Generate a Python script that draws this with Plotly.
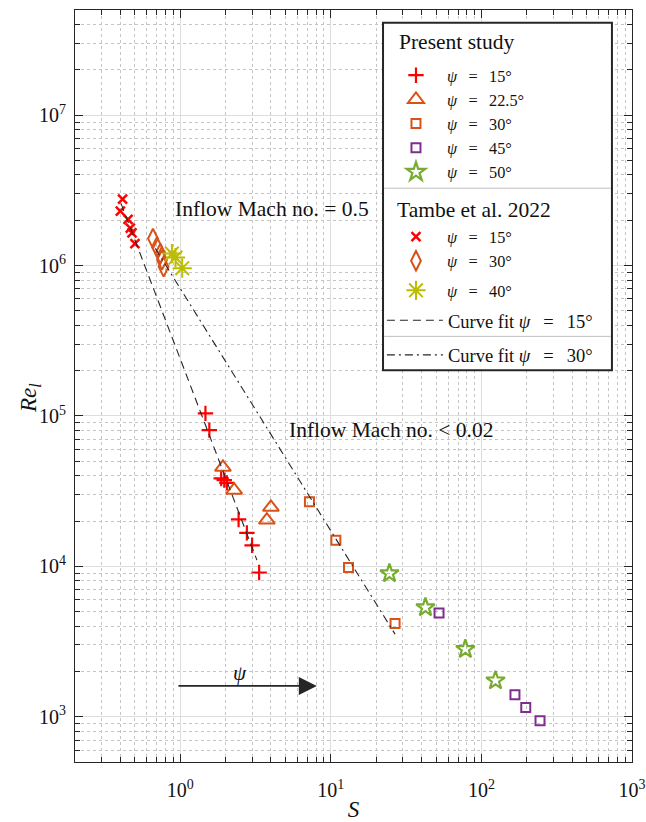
import plotly.graph_objects as go

# Present study
s_15 = [1.47, 1.56, 1.87, 1.96, 2.04, 2.44, 2.77, 3.0, 3.34]
re_15 = [1.04e5, 8.05e4, 3.84e4, 3.74e4, 3.59e4, 2.05e4, 1.67e4, 1.38e4, 9.1e3]
s_225 = [1.92, 2.28, 4.0, 3.76]
re_225 = [4.55e4, 3.21e4, 2.47e4, 2.03e4]
s_30 = [7.21, 10.8, 13.1, 26.7]
re_30 = [2.69e4, 1.49e4, 9.84e3, 4.17e3]
s_45 = [52.3, 167, 197, 245]
re_45 = [4.89e3, 1.40e3, 1.15e3, 940]
s_50 = [24.5, 42.5, 78.2, 124]
re_50 = [8.97e3, 5.33e3, 2.81e3, 1.74e3]

# Tambe et al. 2022
tambe_s_15 = [0.414, 0.40, 0.45, 0.466, 0.478, 0.50]
tambe_re_15 = [2.76e6, 2.30e6, 2.03e6, 1.77e6, 1.65e6, 1.40e6]
tambe_s_30 = [0.659, 0.70, 0.737, 0.756, 0.775]
tambe_re_30 = [1.51e6, 1.33e6, 1.20e6, 1.09e6, 0.98e6]
tambe_s_40 = [0.88, 0.93, 1.03]
tambe_re_40 = [1.20e6, 1.13e6, 0.96e6]

# curve fits (end points)
fit_s_15 = [0.404, 3.23]
fit_re_15 = [2.59e6, 1.10e4]
fit_s_30 = [0.683, 26.7]
fit_re_30 = [1.30e6, 3.54e3]

x_ticks = [1, 10, 100, 1000]
x_ticktext = ["10<sup>0</sup>", "10<sup>1</sup>", "10<sup>2</sup>", "10<sup>3</sup>"]
y_ticks = [1e3, 1e4, 1e5, 1e6, 1e7]
y_ticktext = ["10<sup>3</sup>", "10<sup>4</sup>", "10<sup>5</sup>", "10<sup>6</sup>", "10<sup>7</sup>"]

FONT = "Liberation Serif, Times New Roman, serif"
RED = "#FF0000"
ORANGE = "#D95319"
PURPLE = "#7E2F8E"
GREEN = "#77AC30"
YELLOW = "#BDBD00"
DARK = "#262626"
TXT = "#111111"

fig = go.Figure()

def pts(x, y, name, leg, symbol, color, size, lw=2):
    fig.add_trace(go.Scatter(
        x=x, y=y, mode="markers", name=name, legend=leg,
        marker=dict(symbol=symbol, size=size, color=color,
                    line=dict(color=color, width=lw))
    ))

psi = "<i>ψ</i>\u2002\u2009=\u2002\u2009"
pts(s_15, re_15, psi + "15°", "legend", "cross-thin-open", RED, 11, 2.2)
pts(s_225, re_225, psi + "22.5°", "legend", "triangle-up-open", ORANGE, 14)
pts(s_30, re_30, psi + "30°", "legend", "square-open", ORANGE, 9)
pts(s_45, re_45, psi + "45°", "legend", "square-open", PURPLE, 9)
pts(s_50, re_50, psi + "50°", "legend", "star-open", GREEN, 14, 2.2)

pts(tambe_s_15, tambe_re_15, psi + "15°", "legend2", "x-thin-open", RED, 9, 2.5)
pts(tambe_s_30, tambe_re_30, psi + "30°", "legend2", "diamond-tall-open", ORANGE, 14)
pts(tambe_s_40, tambe_re_40, psi + "40°", "legend5", "asterisk-open", YELLOW, 16)

fig.add_trace(go.Scatter(
    x=fit_s_15, y=fit_re_15, mode="lines", name="Curve fit " + psi + "15°",
    legend="legend3", line=dict(color=DARK, width=1.1, dash="8px,5px")
))
fig.add_trace(go.Scatter(
    x=fit_s_30, y=fit_re_30, mode="lines", name="Curve fit " + psi + "30°",
    legend="legend4", line=dict(color=DARK, width=1.1, dash="8px,4px,2px,4px")
))

# legend frame + dividers + group titles
fig.add_shape(type="rect", xref="paper", yref="paper", x0=0.553, x1=0.964, y0=0.521, y1=0.983,
              line=dict(color=DARK, width=2), fillcolor="white", layer="above")
for yy in [0.763, 0.566]:
    fig.add_shape(type="line", xref="paper", yref="paper", x0=0.555, x1=0.962, y0=yy, y1=yy,
                  line=dict(color="#C0C0C0", width=1), layer="above")
fig.add_annotation(xref="paper", yref="paper", x=(397 - 75) / 557, y=(762 - 42) / 752,
                   text="Present study", showarrow=False, xanchor="left", yanchor="middle",
                   font=dict(size=21.5, color=TXT))
fig.add_annotation(xref="paper", yref="paper", x=(395 - 75) / 557, y=(762 - 210) / 752,
                   text="Tambe et al. 2022", showarrow=False, xanchor="left", yanchor="middle",
                   font=dict(size=21.5, color=TXT))

fig.add_annotation(x=-0.046, y=6.375, text="Inflow Mach no. = 0.5", showarrow=False,
                   xanchor="left", yanchor="middle", font=dict(size=21.5, color=TXT))
fig.add_annotation(x=0.71, y=4.906, text="Inflow Mach no. &lt; 0.02", showarrow=False,
                   xanchor="left", yanchor="middle", font=dict(size=21.5, color=TXT))
fig.add_annotation(x=0.398, y=3.29, text="<i>ψ</i>", showarrow=False,
                   font=dict(size=21, color=TXT))
fig.add_annotation(x=0.907, y=3.205, ax=-0.022, ay=3.205, axref="x", ayref="y",
                   text="", showarrow=True, arrowhead=2, arrowsize=2, arrowwidth=1.8,
                   arrowcolor=DARK)

# y axis title
fig.add_annotation(xref="paper", yref="paper", x=(30 - 75) / 557, y=(762 - 398) / 752,
                   text="<i>Re</i><sub><i>l</i></sub>", textangle=-90, showarrow=False,
                   xanchor="center", yanchor="middle", font=dict(size=23, color=TXT))

minor_x = [m * 10 ** e for e in range(-1, 3) for m in range(2, 10)]
minor_y = [m * 10 ** e for e in range(2, 8) for m in range(2, 10)]

axis_common = dict(
    type="log", showline=True, linecolor=DARK, linewidth=1, mirror="ticks",
    ticks="inside", ticklen=8, tickcolor=DARK, tickwidth=1,
    showgrid=True, gridcolor="#DDDDDD", gridwidth=1, zeroline=False,
    tickfont=dict(size=20, color=TXT), ticklabeloverflow="allow", automargin=False,
)

fig.update_xaxes(
    **axis_common, range=[-0.699, 3], tickvals=x_ticks, ticktext=x_ticktext,
    minor=dict(tickvals=minor_x, ticks="inside", ticklen=5, tickcolor=DARK,
               showgrid=True, gridcolor="#C4C4C4", griddash="dot", gridwidth=1),
    title=dict(text="<i>S</i>", font=dict(size=23, color=TXT), standoff=5),
    ticklabelstandoff=10,
)
fig.update_yaxes(
    **axis_common, range=[2.699, 7.699], tickvals=y_ticks, ticktext=y_ticktext,
    minor=dict(tickvals=minor_y, ticks="inside", ticklen=5, tickcolor=DARK,
               showgrid=True, gridcolor="#C4C4C4", griddash="dot", gridwidth=1),
    ticklabelstandoff=4,
)

leg_common = dict(xanchor="left", yanchor="top", bgcolor="rgba(0,0,0,0)", borderwidth=0,
                  font=dict(size=16.3, color=TXT), itemwidth=52)
fit_leg = dict(leg_common, font=dict(size=18.5, color=TXT), itemwidth=56)
fig.update_layout(
    width=646, height=822,
    margin=dict(l=75, r=14, t=10, b=60),
    paper_bgcolor="white", plot_bgcolor="white",
    font=dict(family=FONT, color=TXT),
    legend=dict(**leg_common, x=0.5565, y=0.936),
    legend2=dict(**leg_common, x=0.5565, y=0.7215),
    legend5=dict(**leg_common, x=0.5565, y=0.650),
    legend3=dict(**fit_leg, x=0.551, y=0.612),
    legend4=dict(**fit_leg, x=0.551, y=0.566),
)

fig.write_html("out.html", config={"displayModeBar": False},
               post_script="document.body.style.margin='0';")
